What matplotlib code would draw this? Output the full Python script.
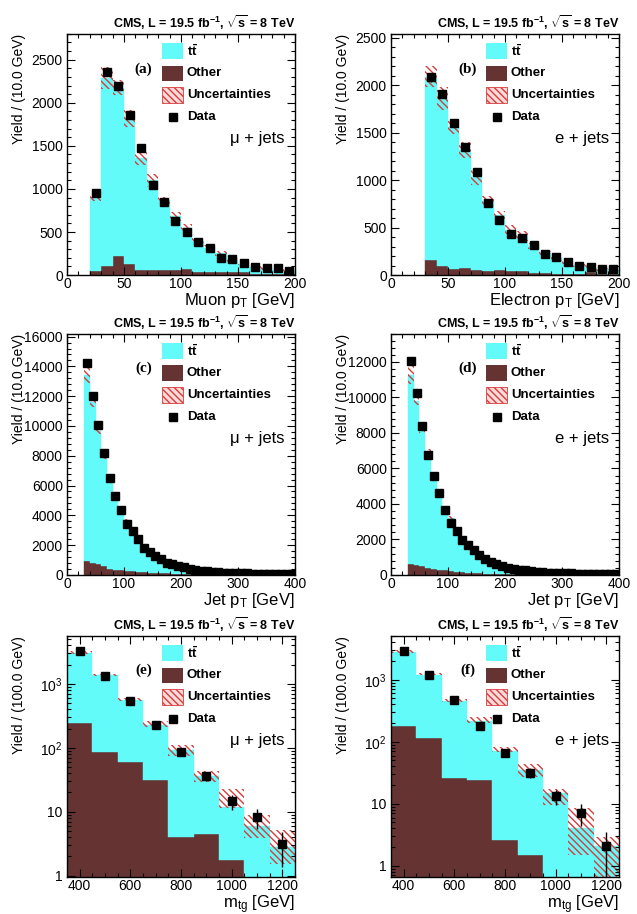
import numpy as np
import matplotlib.pyplot as plt
from matplotlib.patches import Rectangle
from matplotlib.ticker import (MultipleLocator, FixedLocator, FixedFormatter,
                               LogLocator, NullFormatter)

plt.rcParams['font.family'] = ['Liberation Sans', 'DejaVu Sans']
plt.rcParams['mathtext.fontset'] = 'custom'
plt.rcParams['mathtext.rm'] = 'Liberation Sans'
plt.rcParams['mathtext.it'] = 'Liberation Sans:italic'
plt.rcParams['mathtext.bf'] = 'Liberation Sans:bold'
plt.rcParams['hatch.linewidth'] = 1.0

TT_COLOR = '#63fafa'
OTHER_COLOR = '#663333'
UNC_COLOR = '#d83c3c'

# (a) muon pT, mu+jets, 10 GeV bins from 20
bins_a = np.arange(20, 200, 10)
data_a = [957, 2357, 2191, 1863, 1478, 1045, 853, 629, 498, 386, 309, 204, 189, 139, 96, 81, 77, 50]
mc_a = [903, 2290, 2176, 1813, 1362, 1100, 868, 683, 552, 401, 320, 251, 177, 131, 96, 77, 62, 46]
unc_a = [48, 125, 87, 100, 83, 73, 42, 50, 44, 29, 33, 33, 21, 19, 15, 14, 10, 10]
other_a = [42, 100, 216, 131, 62, 62, 54, 54, 70, 39, 31, 31, 31, 31, 15, 15, 12, 12]

# (b) electron pT, e+jets, 10 GeV bins from 30
bins_b = np.arange(30, 200, 10)
data_b = [2083, 1904, 1606, 1350, 1083, 761, 582, 431, 386, 312, 217, 193, 140, 95, 81, 63, 60]
mc_b = [2086, 1858, 1557, 1315, 1031, 785, 628, 480, 410, 305, 228, 175, 137, 102, 84, 60, 53]
unc_b = [110, 119, 70, 84, 79, 44, 44, 44, 56, 32, 30, 23, 19, 19, 19, 14, 12]
other_b = [154, 91, 63, 77, 49, 39, 49, 39, 39, 21, 18, 16, 15, 15, 32, 14, 14]

# (c) jet pT, mu+jets, 10 GeV bins from 30
bins_c = np.arange(30, 400, 10)
data_c = [14200, 12000, 10050, 8200, 6480, 5300, 4380, 3450, 2980, 2420, 1800, 1550, 1300,
          1040, 820, 750, 630, 500, 410, 340, 295, 250, 210, 185, 160, 140, 130, 115, 100,
          92, 85, 78, 72, 66, 60, 55, 50]
mc_c = [13420, 11580, 9670, 7950, 6530, 5310, 4440, 3660, 2960, 2400, 1840, 1520, 1250,
        1010, 810, 720, 600, 480, 390, 320, 275, 230, 195, 170, 145, 125, 112, 100, 88,
        80, 72, 66, 60, 54, 49, 45, 41]
unc_c = [550, 340, 220, 170, 110, 80, 70, 80, 60, 50, 90, 40, 35, 30, 25, 22, 20, 17, 15,
         13, 11, 10, 9, 8, 7, 6, 6, 5, 5, 5, 4, 4, 4, 3, 3, 3, 3]
other_c = [965, 810, 700, 580, 400, 360, 310, 290, 250, 225, 180, 150, 130, 110, 95, 80, 70,
           60, 50, 42, 36, 31, 27, 24, 21, 18, 16, 14, 12, 11, 10, 9, 8, 7, 6, 6, 5]

# (d) jet pT, e+jets
bins_d = np.arange(30, 400, 10)
data_d = [12070, 10230, 8370, 6730, 5570, 4590, 3670, 2900, 2500, 1990, 1670, 1430, 1150,
          870, 700, 620, 510, 415, 340, 300, 265, 210, 190, 150, 132, 118, 105, 95, 86,
          78, 72, 66, 61, 56, 52, 48, 45]
mc_d = [11250, 9820, 8290, 7000, 5620, 4720, 3720, 3220, 2500, 2090, 1670, 1390, 1150,
        960, 760, 650, 530, 430, 350, 300, 255, 215, 180, 155, 132, 115, 100, 88, 78,
        70, 62, 56, 50, 45, 41, 37, 34]
unc_d = [500, 260, 280, 120, 60, 60, 60, 90, 50, 45, 40, 35, 30, 25, 20, 18, 16, 14, 12,
         10, 9, 8, 7, 6, 6, 5, 5, 4, 4, 4, 3, 3, 3, 3, 3, 2, 2]
other_d = [620, 580, 490, 380, 340, 300, 260, 210, 150, 150, 120, 100, 85, 72, 62, 53, 46,
           40, 34, 30, 26, 22, 19, 17, 15, 13, 11, 10, 9, 8, 7, 6, 6, 5, 5, 4, 4]

# (e) m_tg, mu+jets, 100 GeV bins from 350
bins_e = np.arange(350, 1250, 100)
data_e = [3220, 1320, 547, 227, 85, 36, 14.5, 8.3, 3.1]
mc_e = [3050, 1370, 560, 225, 92, 36, 12, 5.9, 2.8]
up_e = [200, 60, 30, 40, 18, 7, 11, 2.9, 2.3]
dn_e = [100, 40, 20, 12, 18, 7, 0.5, 2.0, 1.3]
other_e = [241, 86.5, 60, 31, 4.0, 4.4, 1.76, 0, 0]

# (f) m_tg, e+jets
bins_f = np.arange(350, 1250, 100)
data_f = [2865, 1189, 464, 177, 65.6, 31.6, 13.1, 7.1, 2.05]
mc_f = [2750, 1200, 460, 213, 72, 34.5, 15, 4.1, 2.05]
up_f = [220, 80, 30, 38, 9, 9.5, 2.3, 4.4, 0.85]
dn_f = [50, 20, 20, 14, 4, 7, 5.4, 2.6, 1.5]
other_f = [177, 117, 26, 24, 2.6, 1.5, 0, 0, 0]

TITLE = r'CMS, L = 19.5 fb$^{\mathbf{-1}}$, $\mathbf{\sqrt{s}}$ = 8 TeV'

fig = plt.figure(figsize=(6.37, 9.14), dpi=100)

W, H = 0.358, 0.264
lefts = [0.1052, 0.6138]
bottoms = [0.699, 0.371, 0.0405]


def draw_panel(ax, lo, width, other, mc, up, dn, data):
    lo = np.asarray(lo, dtype=float)
    centers = lo + width / 2
    other = np.asarray(other, dtype=float)
    mc = np.asarray(mc, dtype=float)
    up = np.asarray(up, dtype=float)
    dn = np.asarray(dn, dtype=float)
    data = np.asarray(data, dtype=float)

    ax.bar(centers, other, width=width, color=OTHER_COLOR,
           edgecolor=OTHER_COLOR, linewidth=0.3)
    ax.bar(centers, mc - other, bottom=other, width=width, color=TT_COLOR,
           edgecolor=TT_COLOR, linewidth=0.3)
    ax.bar(centers, up + dn, bottom=mc - dn, width=width, fill=False,
           hatch='\\\\\\\\\\', edgecolor=UNC_COLOR, linewidth=0)
    ax.errorbar(centers, data, yerr=np.sqrt(data), fmt='s', color='black',
                ms=5.2, elinewidth=1, capsize=0, zorder=5)


def decorate(ax, tag, channel, xlabel, ylabel):
    rows = [0.928, 0.836, 0.746, 0.654]
    x0, bw, bh = 0.417, 0.092, 0.064
    ax.add_patch(Rectangle((x0, rows[0] - bh / 2), bw, bh, transform=ax.transAxes,
                           facecolor=TT_COLOR, edgecolor='none', zorder=6))
    ax.add_patch(Rectangle((x0, rows[1] - bh / 2), bw, bh, transform=ax.transAxes,
                           facecolor=OTHER_COLOR, edgecolor='none', zorder=6))
    ax.add_patch(Rectangle((x0, rows[2] - bh / 2), bw, bh, transform=ax.transAxes,
                           facecolor='#fbdada', edgecolor=UNC_COLOR, linewidth=0.6,
                           hatch='\\\\\\\\\\', zorder=6))
    ax.plot([x0 + bw / 2], [rows[3]], 's', color='black', ms=5.2,
            transform=ax.transAxes, zorder=6)
    labels = [r'$\mathbf{t\bar{t}}$', 'Other', 'Uncertainties', 'Data']
    for y, lab in zip(rows, labels):
        ax.text(0.526, y, lab, transform=ax.transAxes, ha='left', va='center',
                fontsize=9.5, fontweight='bold', zorder=6)

    ax.text(0.335, 0.855, tag, transform=ax.transAxes, ha='center', va='center',
            fontsize=11, fontweight='bold', family='Liberation Serif')
    ax.text(0.955, 0.567, channel, transform=ax.transAxes, ha='right', va='center',
            fontsize=12)
    ax.text(1.0, 1.008, TITLE, transform=ax.transAxes, ha='right', va='bottom',
            fontsize=9, fontweight='bold')

    ax.set_xlabel(xlabel, loc='right', fontsize=12, labelpad=0)
    ax.set_ylabel(ylabel, loc='top', fontsize=10)
    ax.yaxis.set_label_coords(-0.18, 1.0)

    ax.tick_params(which='both', direction='in', top=True, right=True,
                   labelsize=10, width=0.8)
    ax.tick_params(which='major', length=6)
    ax.tick_params(axis='x', which='major', pad=1.5)
    ax.tick_params(axis='y', which='major', pad=3)
    ax.tick_params(which='minor', length=3)
    for sp in ax.spines.values():
        sp.set_linewidth(1.0)


panels = [
    (0, 0, bins_a, 10, other_a, mc_a, unc_a, unc_a, data_a, (0, 200), (0, 2800), 50, 10, 500, 100, False,
     '(a)', 'μ + jets', r'Muon p$_{\mathrm{T}}$ [GeV]', 'Yield / (10.0 GeV)'),
    (1, 0, bins_b, 10, other_b, mc_b, unc_b, unc_b, data_b, (0, 200), (0, 2540), 50, 10, 500, 100, False,
     '(b)', 'e + jets', r'Electron p$_{\mathrm{T}}$ [GeV]', 'Yield / (10.0 GeV)'),
    (0, 1, bins_c, 10, other_c, mc_c, unc_c, unc_c, data_c, (0, 400), (0, 16200), 100, 20, 2000, 400, False,
     '(c)', 'μ + jets', r'Jet p$_{\mathrm{T}}$ [GeV]', 'Yield / (10.0 GeV)'),
    (1, 1, bins_d, 10, other_d, mc_d, unc_d, unc_d, data_d, (0, 400), (0, 13600), 100, 20, 2000, 400, False,
     '(d)', 'e + jets', r'Jet p$_{\mathrm{T}}$ [GeV]', 'Yield / (10.0 GeV)'),
    (0, 2, bins_e, 100, other_e, mc_e, up_e, dn_e, data_e, (350, 1250), (0.95, 5670), 200, 50, None, None, True,
     '(e)', 'μ + jets', r'm$_{\mathrm{tg}}$ [GeV]', 'Yield / (100.0 GeV)'),
    (1, 2, bins_f, 100, other_f, mc_f, up_f, dn_f, data_f, (350, 1250), (0.66, 5130), 200, 50, None, None, True,
     '(f)', 'e + jets', r'm$_{\mathrm{tg}}$ [GeV]', 'Yield / (100.0 GeV)'),
]

for (col, row, bins, width, other, mc, up, dn, data, xlim, ylim, xmaj, xmin,
     ymaj, ymin, log, tag, channel, xlabel, ylabel) in panels:
    ax = fig.add_axes([lefts[col], bottoms[row], W, H])
    if log:
        ax.set_yscale('log')
    draw_panel(ax, bins, width, other, mc, up, dn, data)
    ax.set_xlim(*xlim)
    ax.set_ylim(*ylim)
    ax.xaxis.set_major_locator(MultipleLocator(xmaj))
    ax.xaxis.set_minor_locator(MultipleLocator(xmin))
    if log:
        ax.yaxis.set_major_locator(FixedLocator([1, 10, 100, 1000]))
        ax.yaxis.set_major_formatter(FixedFormatter(['1', '10', r'10$^{2}$', r'10$^{3}$']))
        ax.yaxis.set_minor_locator(LogLocator(base=10, subs=np.arange(2, 10)))
        ax.yaxis.set_minor_formatter(NullFormatter())
    else:
        ax.yaxis.set_major_locator(MultipleLocator(ymaj))
        ax.yaxis.set_minor_locator(MultipleLocator(ymin))
    decorate(ax, tag, channel, xlabel, ylabel)

fig.savefig('out.png', dpi=100)
